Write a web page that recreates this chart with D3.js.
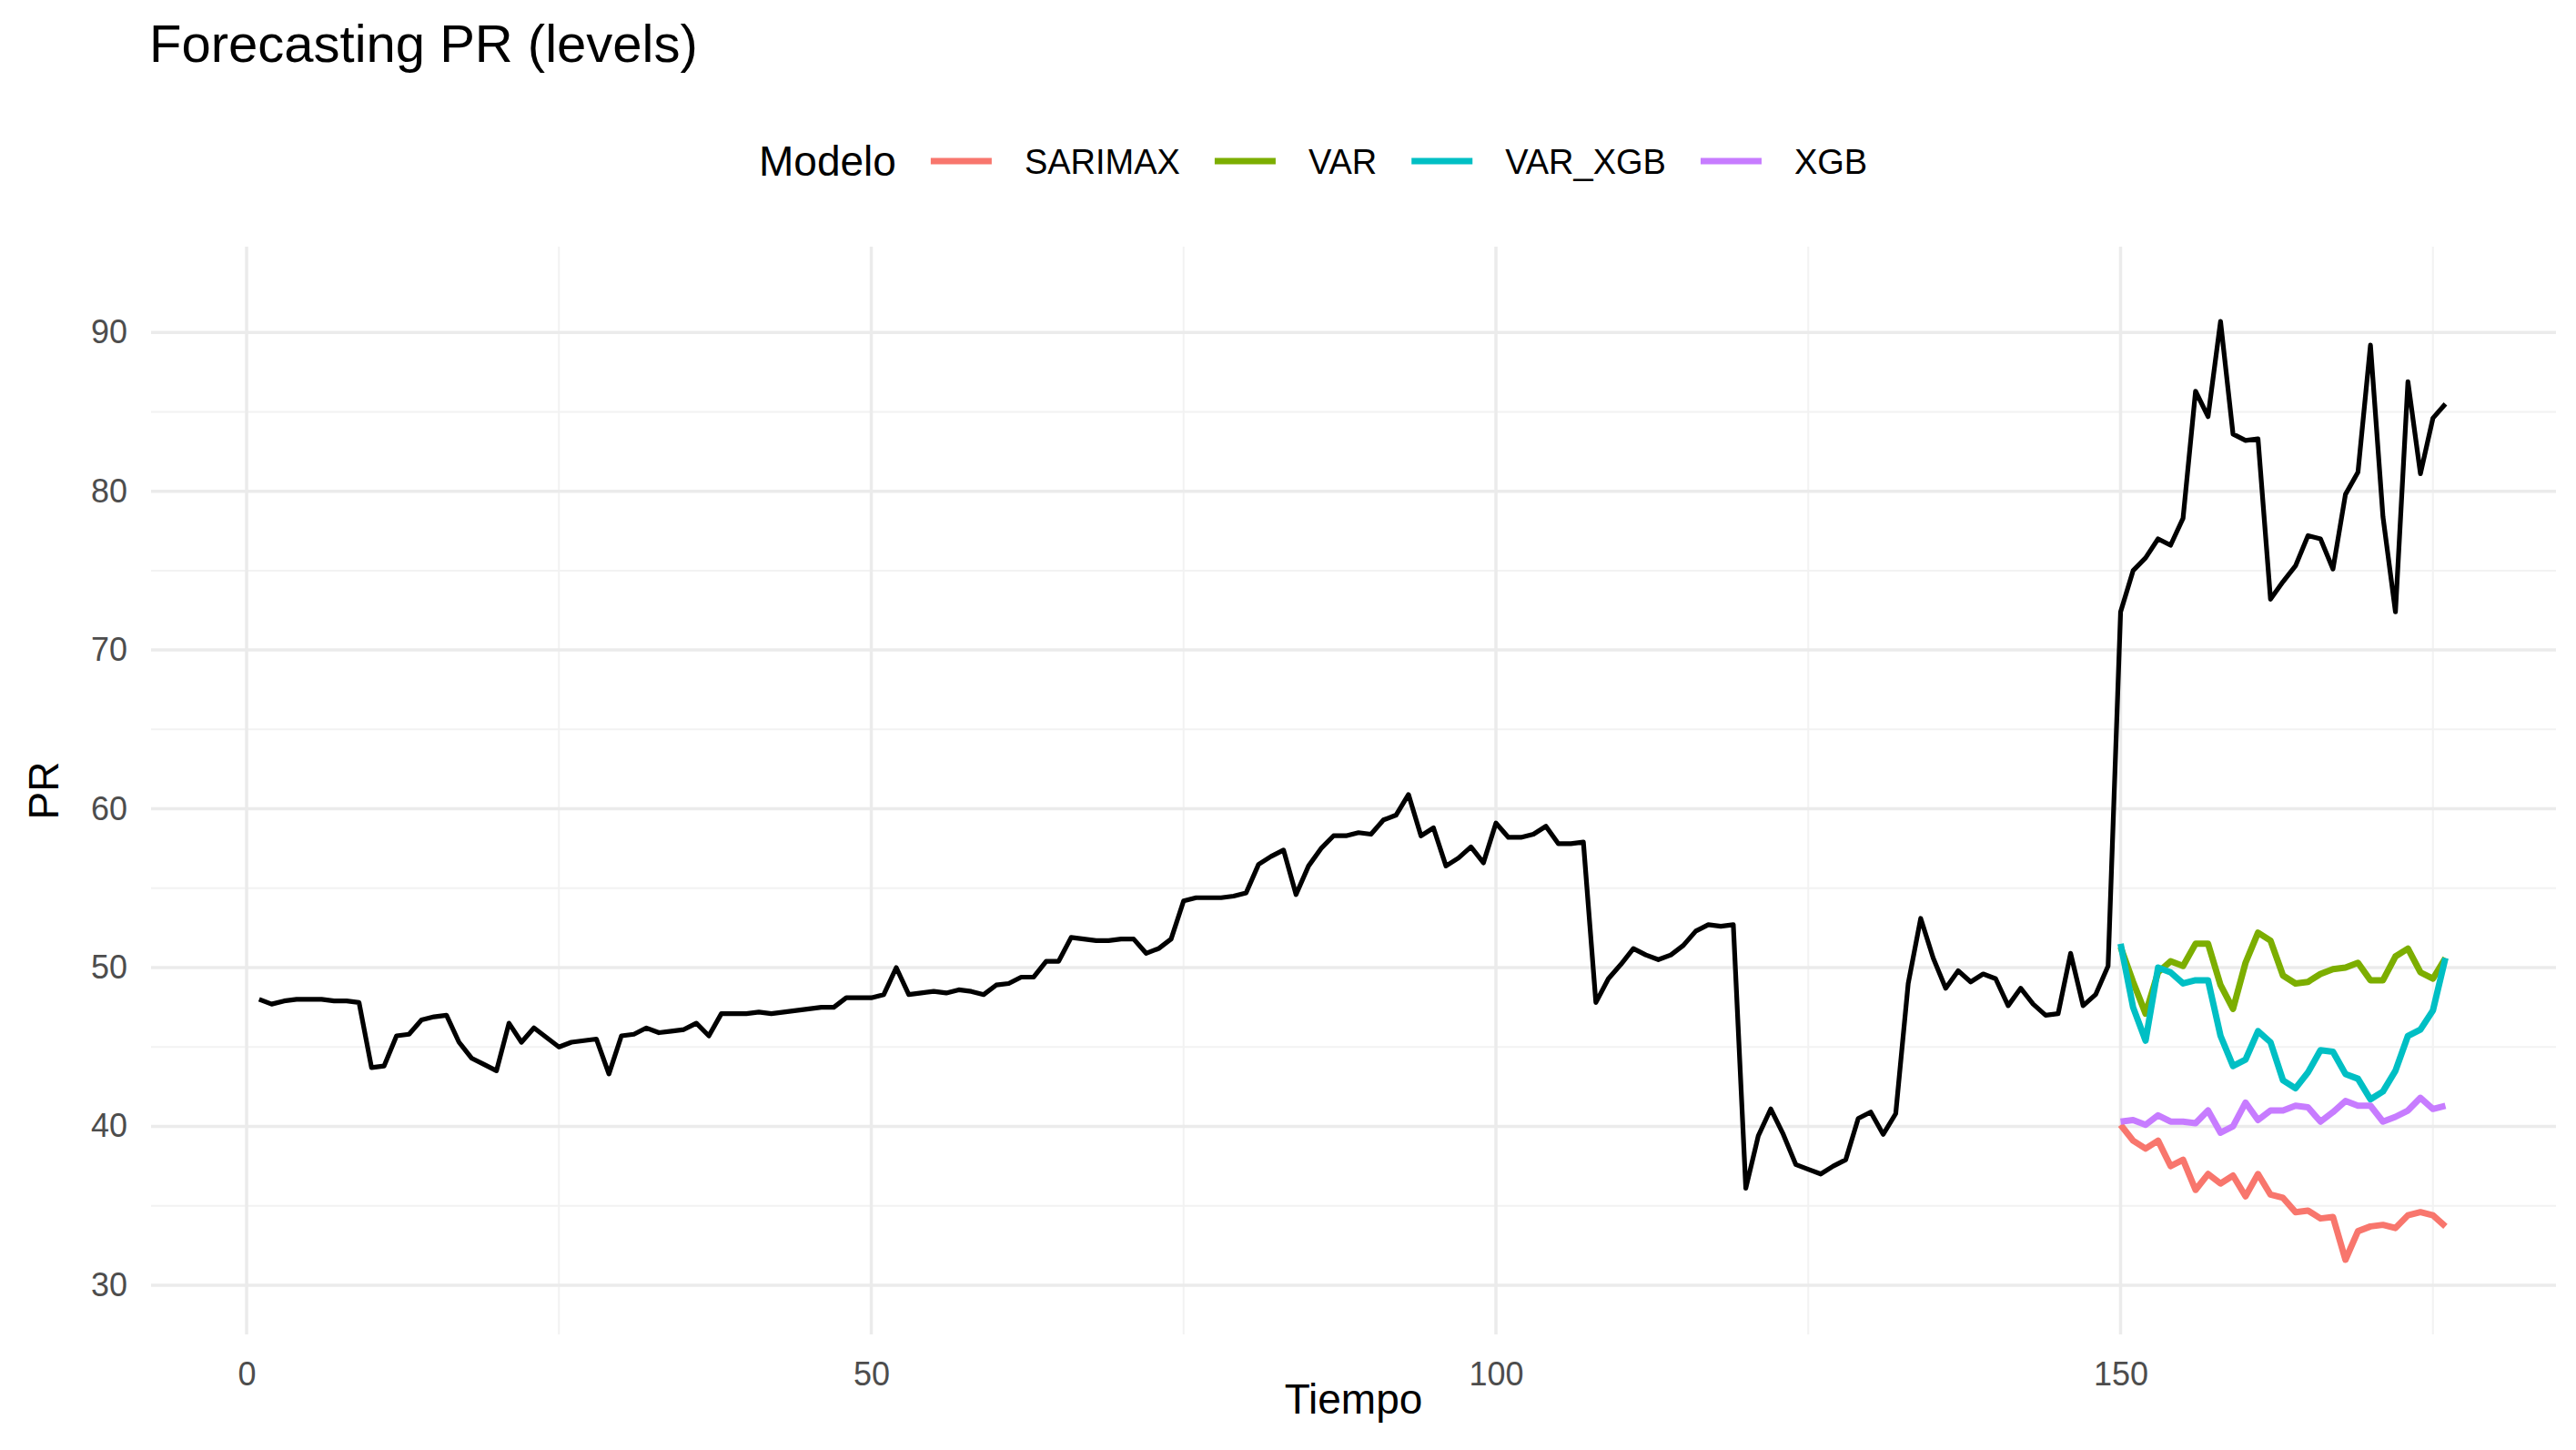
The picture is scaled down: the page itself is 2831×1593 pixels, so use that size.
<!DOCTYPE html>
<html>
<head>
<meta charset="utf-8">
<script src="https://cdn.jsdelivr.net/npm/d3@7"></script>
<style>
  body { margin: 0; background: #fff; }
  text { font-family: "Liberation Sans", Arial, sans-serif; }
</style>
</head>
<body>
<svg id="chart" width="2831" height="1593"></svg>
<script>
// observed PR, t = 1..176
const actual = [
  48.0, 47.7, 47.9, 48.0, 48.0, 48.0, 47.9, 47.9, 47.8, 43.7,
  43.8, 45.7, 45.8, 46.7, 46.9, 47.0, 45.3, 44.3, 43.9, 43.5,
  46.5, 45.3, 46.2, 45.6, 45.0, 45.3, 45.4, 45.5, 43.3, 45.7,
  45.8, 46.2, 45.9, 46.0, 46.1, 46.5, 45.7, 47.1, 47.1, 47.1,
  47.2, 47.1, 47.2, 47.3, 47.4, 47.5, 47.5, 48.1, 48.1, 48.1,
  48.3, 50.0, 48.3, 48.4, 48.5, 48.4, 48.6, 48.5, 48.3, 48.9,
  49.0, 49.4, 49.4, 50.4, 50.4, 51.9, 51.8, 51.7, 51.7, 51.8,
  51.8, 50.9, 51.2, 51.8, 54.2, 54.4, 54.4, 54.4, 54.5, 54.7,
  56.5, 57.0, 57.4, 54.6, 56.4, 57.5, 58.3, 58.3, 58.5, 58.4,
  59.3, 59.6, 60.9, 58.3, 58.8, 56.4, 56.9, 57.6, 56.6, 59.1,
  58.2, 58.2, 58.4, 58.9, 57.8, 57.8, 57.9, 47.8, 49.3, 50.2,
  51.2, 50.8, 50.5, 50.8, 51.4, 52.3, 52.7, 52.6, 52.7, 36.1,
  39.4, 41.1, 39.5, 37.6, 37.3, 37.0, 37.5, 37.9, 40.5, 40.9,
  39.5, 40.8, 49.0, 53.1, 50.6, 48.7, 49.8, 49.1, 49.6, 49.3,
  47.6, 48.7, 47.7, 47.0, 47.1, 50.9, 47.6, 48.3, 50.1, 72.4,
  75.0, 75.8, 77.0, 76.6, 78.3, 86.3, 84.7, 90.7, 83.6, 83.2,
  83.3, 73.2, 74.3, 75.3, 77.2, 77.0, 75.1, 79.8, 81.2, 89.2,
  78.4, 72.4, 86.9, 81.1, 84.6, 85.5
];

// forecasts, t = 150..176
const forecastStart = 150;
const models = ["SARIMAX", "VAR", "VAR_XGB", "XGB"];
const modelColors = ["#F8766D", "#7CAE00", "#00BFC4", "#C77CFF"];
const sarimax = [40.1, 39.1, 38.6, 39.1, 37.5, 37.9, 36.0, 37.0, 36.4, 36.9, 35.6, 37.0, 35.7, 35.5,
  34.6, 34.7, 34.2, 34.3, 31.6, 33.4, 33.7, 33.8, 33.6, 34.4, 34.6, 34.4, 33.7];
const varF = [51.3, 49.1, 47.1, 49.7, 50.4, 50.1, 51.5, 51.5, 48.9, 47.4, 50.3, 52.2, 51.7, 49.5,
  49.0, 49.1, 49.6, 49.9, 50.0, 50.3, 49.2, 49.2, 50.7, 51.2, 49.7, 49.3, 50.6];
const varXgb = [51.5, 47.5, 45.4, 50.0, 49.7, 49.0, 49.2, 49.2, 45.7, 43.8, 44.2, 46.0, 45.3, 42.9,
  42.4, 43.4, 44.8, 44.7, 43.3, 43.0, 41.7, 42.2, 43.5, 45.7, 46.1, 47.3, 50.6];
const xgb = [40.3, 40.4, 40.1, 40.7, 40.3, 40.3, 40.2, 41.0, 39.6, 40.0, 41.5, 40.4, 41.0, 41.0,
  41.3, 41.2, 40.3, 40.9, 41.6, 41.3, 41.3, 40.3, 40.6, 41.0, 41.8, 41.1, 41.3];
const forecasts = [sarimax, varF, varXgb, xgb];

const xTicks = [0, 50, 100, 150];
const yTicks = [30, 40, 50, 60, 70, 80, 90];

const svg = d3.select("#chart");
const panel = { left: 166, right: 2809, top: 271, bottom: 1466 };

const x = d3.scaleLinear().domain([-7.65, 184.85]).range([panel.left, panel.right]);
const y = d3.scaleLinear().domain([26.9, 95.4]).range([panel.bottom, panel.top]);

// grid
const grid = svg.append("g");
d3.range(25, 200, 50).forEach(v => {
  if (x(v) < panel.right) grid.append("line").attr("x1", x(v)).attr("x2", x(v))
    .attr("y1", panel.top).attr("y2", panel.bottom).attr("stroke", "#f2f2f2").attr("stroke-width", 2);
});
d3.range(35, 95, 10).forEach(v => {
  grid.append("line").attr("x1", panel.left).attr("x2", panel.right)
    .attr("y1", y(v)).attr("y2", y(v)).attr("stroke", "#f2f2f2").attr("stroke-width", 2);
});
xTicks.forEach(v => {
  grid.append("line").attr("x1", x(v)).attr("x2", x(v))
    .attr("y1", panel.top).attr("y2", panel.bottom).attr("stroke", "#ebebeb").attr("stroke-width", 3.5);
});
yTicks.forEach(v => {
  grid.append("line").attr("x1", panel.left).attr("x2", panel.right)
    .attr("y1", y(v)).attr("y2", y(v)).attr("stroke", "#ebebeb").attr("stroke-width", 3.5);
});

// axes (labels only, ggplot minimal style)
const xAxis = svg.append("g").attr("transform", `translate(0,${panel.bottom})`)
  .call(d3.axisBottom(x).tickValues(xTicks).tickSize(0).tickPadding(30));
const yAxis = svg.append("g").attr("transform", `translate(${panel.left},0)`)
  .call(d3.axisLeft(y).tickValues(yTicks).tickSize(0).tickPadding(26));
[xAxis, yAxis].forEach(a => {
  a.select(".domain").remove();
  a.selectAll("text").attr("font-size", 36).attr("fill", "#4d4d4d")
    .style("font-family", "'Liberation Sans', Arial, sans-serif");
});

// lines
const line = d3.line().x(d => x(d[0])).y(d => y(d[1]));
svg.append("path").datum(actual.map((v, i) => [i + 1, v]))
  .attr("d", line).attr("fill", "none").attr("stroke", "#000")
  .attr("stroke-width", 5.2).attr("stroke-linejoin", "round");

forecasts.forEach((series, k) => {
  svg.append("path").datum(series.map((v, i) => [forecastStart + i, v]))
    .attr("d", line).attr("fill", "none").attr("stroke", modelColors[k])
    .attr("stroke-width", 7).attr("stroke-linejoin", "round");
});

// titles
svg.append("text").attr("x", 164).attr("y", 68).attr("font-size", 58).attr("fill", "#000")
  .text("Forecasting PR (levels)");
svg.append("text").attr("x", (panel.left + panel.right) / 2).attr("y", 1553)
  .attr("text-anchor", "middle").attr("font-size", 46).text("Tiempo");
svg.append("text").attr("transform", `translate(64,${(panel.top + panel.bottom) / 2}) rotate(-90)`)
  .attr("text-anchor", "middle").attr("font-size", 46).text("PR");

// legend
const legend = svg.append("g");
const legY = 177;
let cx = 834;
const lt = legend.append("text").attr("x", cx).attr("y", legY + 16).attr("font-size", 46).text("Modelo");
cx += lt.node().getComputedTextLength() + 38;
models.forEach((m, k) => {
  legend.append("line").attr("x1", cx).attr("x2", cx + 67).attr("y1", legY).attr("y2", legY)
    .attr("stroke", modelColors[k]).attr("stroke-width", 7);
  const t = legend.append("text").attr("x", cx + 103).attr("y", legY + 14).attr("font-size", 38).text(m);
  cx += 103 + t.node().getComputedTextLength() + 38;
});
</script>
</body>
</html>
